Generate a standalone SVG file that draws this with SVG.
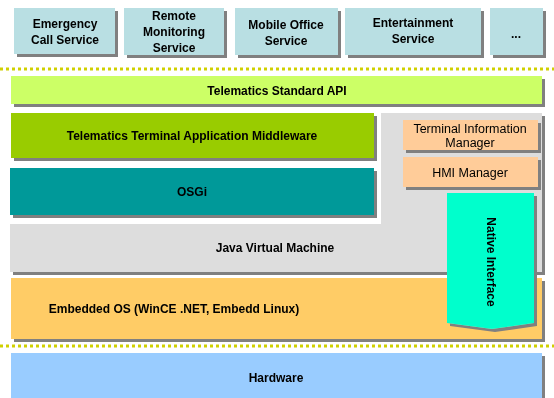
<svg xmlns="http://www.w3.org/2000/svg" width="554" height="398" viewBox="0 0 554 398">
<defs>
<filter id="sh" x="-5%" y="-5%" width="115%" height="125%">
<feFlood flood-color="#808080" result="c"/>
<feComposite in="c" in2="SourceAlpha" operator="in" result="s"/>
<feOffset in="s" dx="3" dy="3" result="o"/>
<feMerge><feMergeNode in="o"/><feMergeNode in="SourceGraphic"/></feMerge>
</filter>
</defs>
<style>
.b{font-family:"Liberation Sans",Arial,sans-serif;font-weight:bold;font-size:12px;fill:#000;text-anchor:middle}
.r{font-family:"Liberation Sans",Arial,sans-serif;font-size:12.5px;fill:#000;text-anchor:middle}
.svc{fill:#B9DFE3}
.dot{stroke:#D0D000;stroke-width:3;stroke-dasharray:3 3;fill:none}
</style>
<rect width="554" height="398" fill="#fff"/>
<g id="services" filter="url(#sh)">
<g id="emergency"><rect class="svc" x="14" y="8" width="101" height="46"/>
<text class="b" x="65" y="28">Emergency</text><text class="b" x="65" y="44">Call Service</text></g>
<g id="remote"><rect class="svc" x="124" y="8" width="100" height="47"/>
<text class="b" x="174" y="20">Remote</text><text class="b" x="174" y="36">Monitoring</text><text class="b" x="174" y="52">Service</text></g>
<g id="mobile"><rect class="svc" x="235" y="8" width="103" height="47"/>
<text class="b" x="286" y="29">Mobile Office</text><text class="b" x="286" y="45">Service</text></g>
<g id="entertainment"><rect class="svc" x="345" y="8" width="136" height="47"/>
<text class="b" x="413" y="27">Entertainment</text><text class="b" x="413" y="43">Service</text></g>
<g id="more"><rect class="svc" x="490" y="8" width="53" height="47"/>
<text class="b" x="516" y="38">...</text></g>
</g>
<g id="connectors">
<line class="dot" x1="0" y1="69" x2="554" y2="69"/>
<line class="dot" x1="0" y1="346" x2="554" y2="346"/>
</g>
<g id="api" filter="url(#sh)"><rect x="11" y="76" width="531" height="28" fill="#CCFF66"/>
<text class="b" x="277" y="95">Telematics Standard API</text></g>
<g id="middleware" filter="url(#sh)"><rect x="11" y="113" width="363" height="45" fill="#99CC00"/>
<text class="b" x="192" y="140">Telematics Terminal Application Middleware</text></g>
<g id="osgi" filter="url(#sh)"><rect x="10" y="168" width="364" height="47" fill="#009999"/>
<text class="b" x="192" y="196">OSGi</text></g>
<g id="jvm" filter="url(#sh)"><path d="M381 113H542V272H10V224H381Z" fill="#DDDDDD"/>
<text class="b" x="275" y="252">Java Virtual Machine</text></g>
<g id="terminal-info" filter="url(#sh)"><rect x="403" y="120" width="135" height="30" fill="#FFCC99"/>
<text class="r" x="470" y="133">Terminal Information</text><text class="r" x="470" y="147">Manager</text></g>
<g id="hmi" filter="url(#sh)"><rect x="403" y="157" width="135" height="30" fill="#FFCC99"/>
<text class="r" x="470" y="177">HMI Manager</text></g>
<g id="embedded-os" filter="url(#sh)"><rect x="11" y="278" width="531" height="61" fill="#FFCC66"/>
<text class="b" x="174" y="313">Embedded OS (WinCE .NET, Embedd Linux)</text></g>
<g id="native" filter="url(#sh)"><path d="M447 193H534V323L492 329L447 323Z" fill="#00FFCC"/>
<text class="b" transform="translate(487,262) rotate(90)" x="0" y="0">Native Interface</text></g>
<g id="hardware" filter="url(#sh)"><rect x="11" y="353" width="531" height="50" fill="#99CCFF"/>
<text class="b" x="276" y="382">Hardware</text></g>
</svg>
